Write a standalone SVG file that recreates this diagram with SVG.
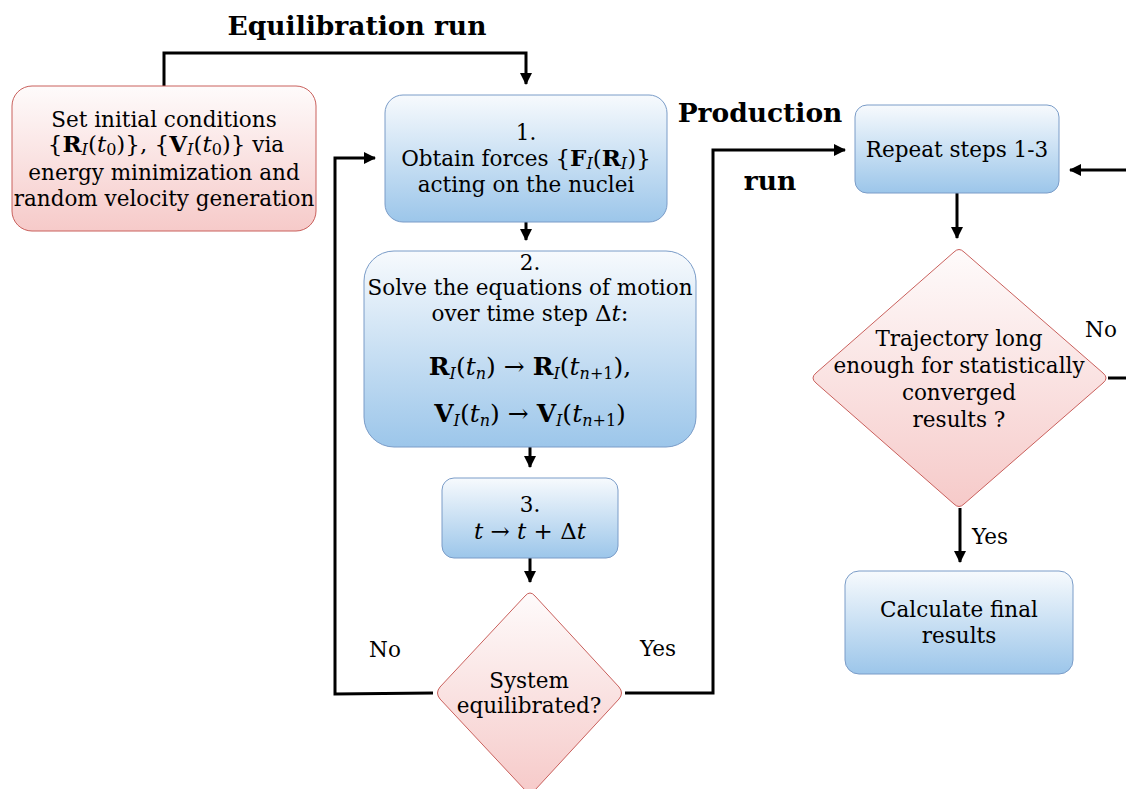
<svg xmlns="http://www.w3.org/2000/svg" width="1126" height="789" viewBox="0 0 1126 789">
<defs>
<linearGradient id="gb" x1="0" y1="0" x2="0" y2="1"><stop offset="0" stop-color="#f7fafd"/><stop offset="1" stop-color="#9cc6ea"/></linearGradient>
<linearGradient id="gr" x1="0" y1="0" x2="0" y2="1"><stop offset="0" stop-color="#fefbfb"/><stop offset="1" stop-color="#f6cac9"/></linearGradient>
<marker id="ar" markerWidth="12" markerHeight="12" refX="11" refY="6" orient="auto" markerUnits="userSpaceOnUse"><path d="M0,0 L12,6 L0,12 Z" fill="#000"/></marker>
<style>
.t{font-family:"DejaVu Serif",serif;font-size:21.5px;fill:#000;text-anchor:middle}
.b{font-family:"DejaVu Serif",serif;font-size:26.5px;font-weight:bold;fill:#000;text-anchor:middle}
.blue{fill:url(#gb);stroke:#7a9cc8;stroke-width:1}
.red{fill:url(#gr);stroke:#c9605c;stroke-width:1}
.c{fill:none;stroke:#000;stroke-width:3}
.m{font-family:"DejaVu Serif",serif;font-size:23px}
.m2{font-family:"DejaVu Serif",serif;font-size:25px}
.bf{font-weight:bold}
.it{font-style:italic}
.sub{font-size:16px}
</style>
</defs>
<rect width="1126" height="789" fill="#fff"/>

<g id="connectors">
<path class="c" d="M164,86 V53 H526 V84" marker-end="url(#ar)"/>
<path class="c" d="M526,222 V240" marker-end="url(#ar)"/>
<path class="c" d="M530,447 V467" marker-end="url(#ar)"/>
<path class="c" d="M530,558 V582" marker-end="url(#ar)"/>
<path class="c" d="M433,693 L335,694 V158 H375" marker-end="url(#ar)"/>
<path class="c" d="M625,693 H713 V150 H845" marker-end="url(#ar)"/>
<path class="c" d="M957,193 V238" marker-end="url(#ar)"/>
<path class="c" d="M1108,378 H1140 V170 H1070" marker-end="url(#ar)"/>
<path class="c" d="M960,508 V562" marker-end="url(#ar)"/>
</g>

<g id="labels">
<text class="b" x="357" y="35">Equilibration run</text>
<text class="b" x="760" y="122">Production</text>
<text class="b" x="770" y="190">run</text>
<text class="t" x="385" y="657">No</text>
<text class="t" x="658" y="656">Yes</text>
<text class="t" x="1101" y="337">No</text>
<text class="t" x="990" y="544">Yes</text>
</g>

<g id="init">
<rect class="red" x="12" y="86" width="304" height="145" rx="20"/>
<text class="t" x="164" y="127">Set initial conditions</text>
<text class="t" x="166" y="152"><tspan class="m">{<tspan class="bf">R</tspan><tspan class="it sub" dy="3">I</tspan><tspan dy="-3">(</tspan><tspan class="it">t</tspan><tspan class="sub" dy="3">0</tspan><tspan dy="-3">)}, {</tspan><tspan class="bf">V</tspan><tspan class="it sub" dy="3">I</tspan><tspan dy="-3">(</tspan><tspan class="it">t</tspan><tspan class="sub" dy="3">0</tspan><tspan dy="-3">)}</tspan></tspan> via</text>
<text class="t" x="164" y="180">energy minimization and</text>
<text class="t" x="164" y="206">random velocity generation</text>
</g>

<g id="step1">
<rect class="blue" x="385" y="95" width="282" height="127" rx="18"/>
<text class="t" x="526" y="140">1.</text>
<text class="t" x="526" y="166">Obtain forces <tspan class="m">{<tspan class="bf">F</tspan><tspan class="it sub" dy="3">I</tspan><tspan dy="-3">(</tspan><tspan class="bf">R</tspan><tspan class="it sub" dy="3">I</tspan><tspan dy="-3">)}</tspan></tspan></text>
<text class="t" x="526" y="192">acting on the nuclei</text>
</g>

<g id="step2">
<rect class="blue" x="364" y="251" width="332" height="196" rx="30"/>
<text class="t" x="530" y="270">2.</text>
<text class="t" x="530" y="295">Solve the equations of motion</text>
<text class="t" x="530" y="321">over time step <tspan class="m">Δ<tspan class="it">t</tspan>:</tspan></text>
<text class="t m2" x="530" y="375"><tspan class="bf">R</tspan><tspan class="it sub" dy="4">I</tspan><tspan dy="-4">(</tspan><tspan class="it">t</tspan><tspan class="it sub" dy="4">n</tspan><tspan dy="-4">) → </tspan><tspan class="bf">R</tspan><tspan class="it sub" dy="4">I</tspan><tspan dy="-4">(</tspan><tspan class="it">t</tspan><tspan class="sub" dy="4"><tspan class="it">n</tspan>+1</tspan><tspan dy="-4">),</tspan></text>
<text class="t m2" x="530" y="422"><tspan class="bf">V</tspan><tspan class="it sub" dy="4">I</tspan><tspan dy="-4">(</tspan><tspan class="it">t</tspan><tspan class="it sub" dy="4">n</tspan><tspan dy="-4">) → </tspan><tspan class="bf">V</tspan><tspan class="it sub" dy="4">I</tspan><tspan dy="-4">(</tspan><tspan class="it">t</tspan><tspan class="sub" dy="4"><tspan class="it">n</tspan>+1</tspan><tspan dy="-4">)</tspan></text>
</g>

<g id="step3">
<rect class="blue" x="442" y="478" width="176" height="80" rx="12"/>
<text class="t" x="530" y="512">3.</text>
<text class="t m" x="530" y="539"><tspan class="it">t</tspan> → <tspan class="it">t</tspan> + Δ<tspan class="it">t</tspan></text>
</g>

<g id="equil">
<path class="red" d="M525,596 Q530,590 535,596 L619,687 Q624,693 619,699 L535,790 Q530,796 525,790 L440,699 Q435,693 440,687 Z"/>
<text class="t" x="529" y="688">System</text>
<text class="t" x="529" y="713">equilibrated?</text>
</g>

<g id="repeat">
<rect class="blue" x="855" y="105" width="204" height="88" rx="12"/>
<text class="t" x="957" y="157">Repeat steps 1-3</text>
</g>

<g id="traj">
<path class="red" d="M954,252 Q959,247 964,252 L1103,373 Q1109,378 1103,383 L964,504 Q959,509 954,504 L816,383 Q810,378 816,373 Z"/>
<text class="t" x="959" y="346">Trajectory long</text>
<text class="t" x="959" y="373">enough for statistically</text>
<text class="t" x="959" y="400">converged</text>
<text class="t" x="959" y="427">results ?</text>
</g>

<g id="final">
<rect class="blue" x="845" y="571" width="228" height="103" rx="14"/>
<text class="t" x="959" y="617">Calculate final</text>
<text class="t" x="959" y="643">results</text>
</g>
</svg>
